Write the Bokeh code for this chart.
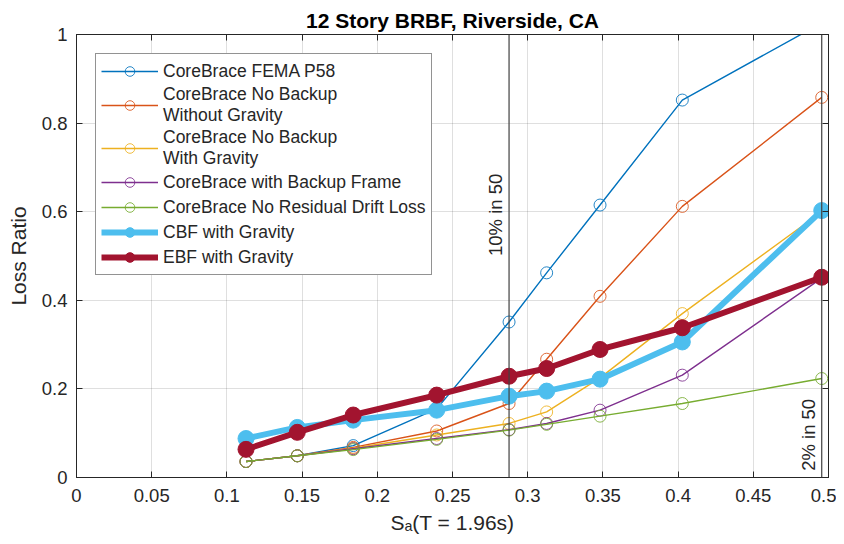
from bokeh.plotting import figure
from bokeh.models import (Range1d, LinearAxis, FixedTicker, Span, Label, Legend, LegendItem,
                          CustomJSTickFormatter)
from bokeh.embed import file_html
from bokeh.resources import INLINE

# ---- data ----
sa = [0.1127, 0.1468, 0.184, 0.2395, 0.2876, 0.3126, 0.3481, 0.4028, 0.4955]
fema_p58 = [0.036, 0.049, 0.072, 0.155, 0.351, 0.462, 0.615, 0.852, 1.026]
no_backup_wo_gravity = [0.036, 0.049, 0.068, 0.105, 0.167, 0.267, 0.409, 0.612, 0.858]
no_backup_w_gravity = [0.036, 0.049, 0.066, 0.096, 0.122, 0.148, 0.225, 0.370, 0.600]
with_backup_frame = [0.036, 0.049, 0.065, 0.088, 0.108, 0.122, 0.152, 0.231, 0.450]
no_residual_drift = [0.036, 0.049, 0.063, 0.086, 0.107, 0.120, 0.1385, 0.167, 0.2234]
cbf_gravity = [0.088, 0.113, 0.1295, 0.152, 0.1836, 0.195, 0.222, 0.306, 0.6025]
ebf_gravity = [0.0635, 0.102, 0.141, 0.186, 0.2286, 0.246, 0.289, 0.338, 0.452]

labels = ["CoreBrace FEMA P58", "CoreBrace No Backup\nWithout Gravity",
          "CoreBrace No Backup\nWith Gravity", "CoreBrace with Backup Frame",
          "CoreBrace No Residual Drift Loss", "CBF with Gravity", "EBF with Gravity"]

hazard_sa = [0.2876, 0.4955]
hazard_labels = ["10% in 50", "2% in 50"]
hazard_label_y = [0.5, 0.015]

x_ticks = [0, 0.05, 0.1, 0.15, 0.2, 0.25, 0.3, 0.35, 0.4, 0.45, 0.5]
x_tick_labels = ["0", "0.05", "0.1", "0.15", "0.2", "0.25", "0.3", "0.35", "0.4", "0.45", "0.5"]
y_ticks = [0, 0.2, 0.4, 0.6, 0.8, 1]
y_tick_labels = ["0", "0.2", "0.4", "0.6", "0.8", "1"]

FONT = "Liberation Sans"
AX = "#262626"

p = figure(width=836, height=536, output_backend="svg", toolbar_location=None,
           x_range=Range1d(0, 0.5), y_range=Range1d(0, 1),
           min_border_left=76, min_border_right=8, min_border_top=34, min_border_bottom=58,
           title="12 Story BRBF, Riverside, CA")
p.title.align = "center"
p.title.text_font = FONT
p.title.text_font_size = "21px"
p.title.text_font_style = "bold"
p.title.text_color = "black"
p.title.standoff = 5
p.title.offset = 0

p.outline_line_color = AX
p.background_fill_color = "white"

blank = CustomJSTickFormatter(code="return ''")
top_axis = LinearAxis(formatter=blank, major_label_standoff=0)
right_axis = LinearAxis(formatter=blank, major_label_standoff=0)
p.add_layout(top_axis, "above")
p.add_layout(right_axis, "right")

bottom = p.below[0]
left = p.left[0]

for ax in (bottom, top_axis):
    ax.ticker = FixedTicker(ticks=x_ticks)
for ax in (left, right_axis):
    ax.ticker = FixedTicker(ticks=y_ticks)
p.xgrid.ticker = FixedTicker(ticks=x_ticks)
p.ygrid.ticker = FixedTicker(ticks=y_ticks)

for ax in (bottom, left, top_axis, right_axis):
    ax.axis_line_color = AX
    ax.major_tick_line_color = AX
    ax.major_tick_in = 6
    ax.major_tick_out = 0
    ax.minor_tick_line_color = None
    ax.major_label_text_font = FONT
    ax.major_label_text_font_size = "18.5px"
    ax.major_label_text_color = AX
    ax.axis_label_text_font = FONT
    ax.axis_label_text_font_size = "21px"
    ax.axis_label_text_font_style = "normal"
    ax.axis_label_text_color = AX
top_axis.major_label_text_font_size = "2px"
right_axis.major_label_text_font_size = "2px"

bottom.major_label_overrides = dict(zip(x_ticks, x_tick_labels))
left.major_label_overrides = dict(zip(y_ticks, y_tick_labels))
bottom.major_label_standoff = 11
left.major_label_standoff = 9
bottom.axis_label = "Sₐ(T = 1.96s)"
left.axis_label = "Loss Ratio"
bottom.axis_label_standoff = 6
left.axis_label_standoff = 9

for g in (p.xgrid, p.ygrid):
    g.grid_line_color = AX
    g.grid_line_alpha = 0.15
    g.grid_line_width = 1

for xs, txt, ly in zip(hazard_sa, hazard_labels, hazard_label_y):
    p.add_layout(Span(location=xs, dimension="height", line_color="#404040", line_width=1.2))
    p.add_layout(Label(x=xs, y=ly, text=txt, angle=90, angle_units="deg",
                       text_align="left", text_baseline="bottom", x_offset=-3,
                       text_font=FONT, text_font_size="18.5px", text_color=AX))

thin = [(fema_p58, "#0072BD"), (no_backup_wo_gravity, "#D95319"),
        (no_backup_w_gravity, "#EDB120"), (with_backup_frame, "#7E2F8E"),
        (no_residual_drift, "#77AC30")]
items = []
for (vals, col), lab in zip(thin, labels[:5]):
    ln = p.line(sa, vals, line_color=col, line_width=1.4)
    sc = p.scatter(sa, vals, marker="circle", size=12, fill_color=None,
                   line_color=col, line_width=1, line_alpha=0.85)
    items.append(LegendItem(label=lab, renderers=[ln, sc]))

for vals, col, lab in [(cbf_gravity, "#4DBEEE", labels[5]), (ebf_gravity, "#A2142F", labels[6])]:
    ln = p.line(sa, vals, line_color=col, line_width=6)
    sc = p.scatter(sa, vals, marker="circle", size=16, fill_color=col, line_color=col)
    items.append(LegendItem(label=lab, renderers=[ln, sc]))

legend = Legend(items=items, location="top_left", margin=19, padding=5, spacing=1,
                glyph_width=57, glyph_height=24, label_standoff=5, label_height=24,
                label_text_font=FONT, label_text_font_size="17.5px",
                label_text_line_height=1.4, label_text_color=AX,
                border_line_color=AX, border_line_width=1,
                background_fill_color="white", background_fill_alpha=1)
p.add_layout(legend)

open("out.html", "w").write(file_html(p, INLINE))
